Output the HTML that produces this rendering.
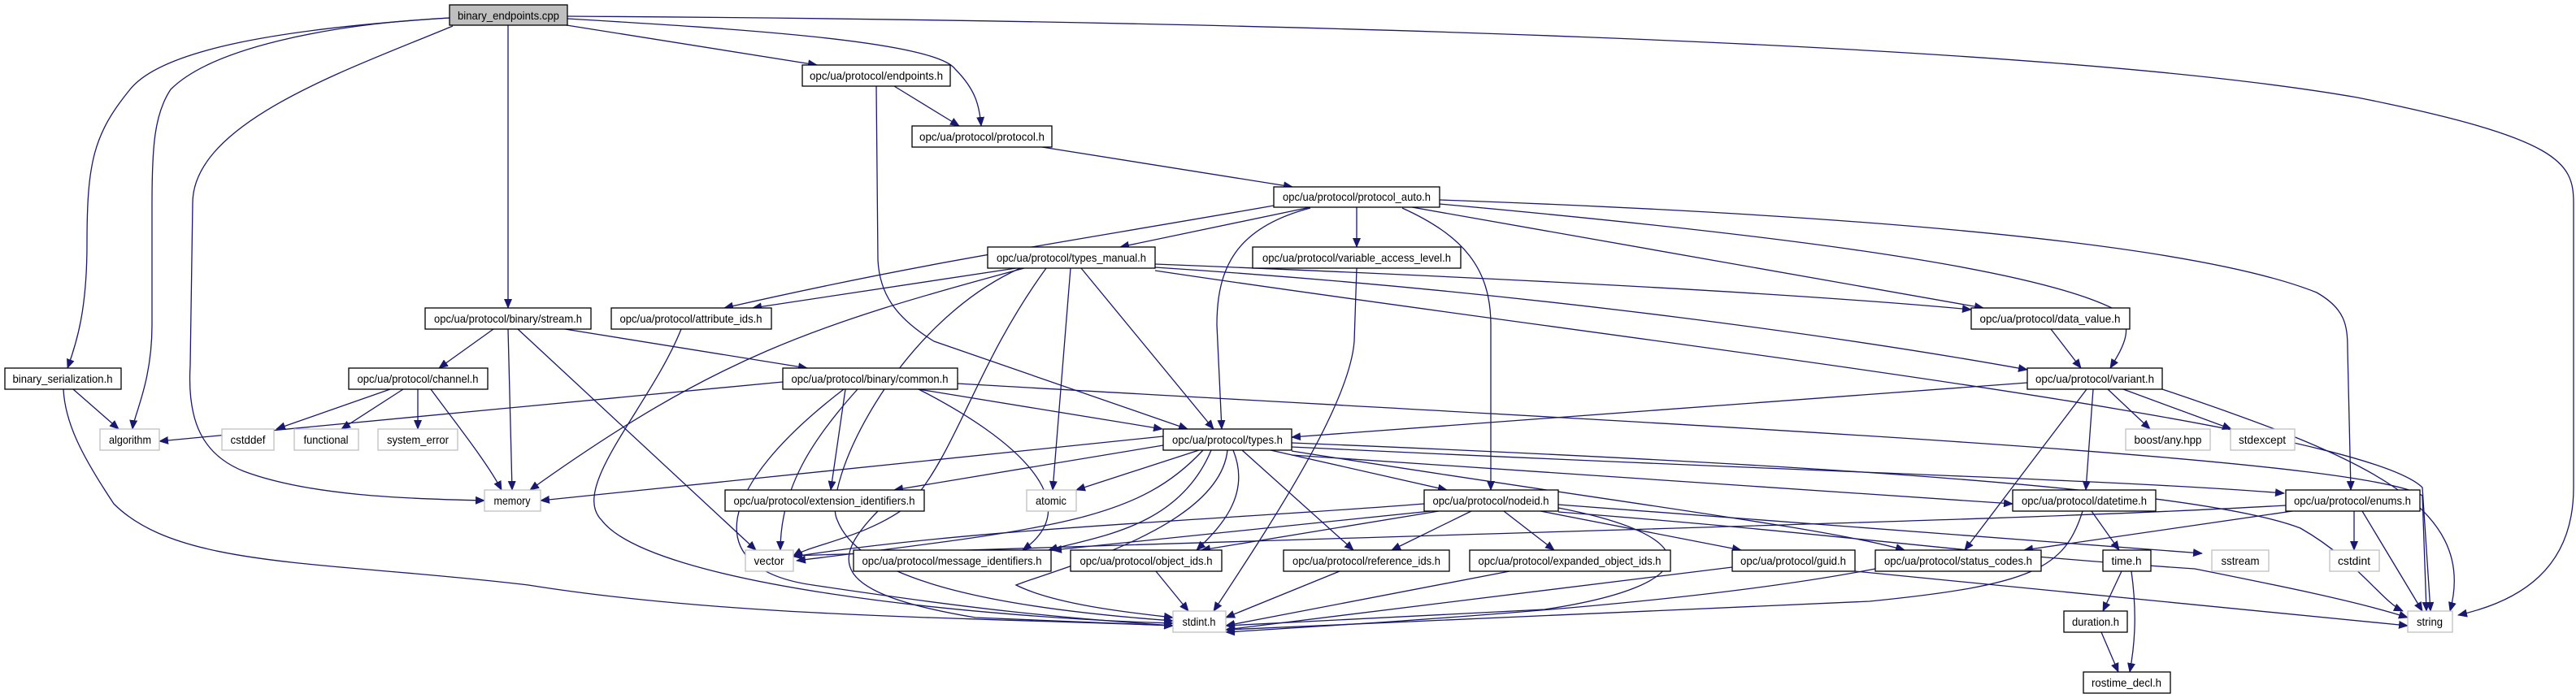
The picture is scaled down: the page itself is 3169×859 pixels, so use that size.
<!DOCTYPE html>
<html><head><meta charset="utf-8"><style>html,body{margin:0;padding:0;background:#fff}svg{display:block}</style></head><body>
<svg width="3169" height="859" viewBox="0 0 3169 859" xmlns="http://www.w3.org/2000/svg" font-family="Liberation Sans, sans-serif" font-size="14">
<defs><marker id="a" markerWidth="12" markerHeight="10" refX="11" refY="5" orient="auto" markerUnits="userSpaceOnUse"><path d="M0,0 L12,5 L0,10 z" fill="#191970"/></marker></defs>
<g fill="none" stroke="#191970" stroke-width="1.3" marker-end="url(#a)">
<path d="M553,22 C350,35 200,60 160,110 C115,165 107,200 107,300 C107,380 95,420 83,453"/>
<path d="M553,22 C400,30 260,60 210,110 C190,140 187,180 187,250 L187,400 C187,470 165,510 163,528"/>
<path d="M557,32 C430,85 237,150 237,250 L234,450 C230,520 250,560 300,580 C380,610 500,614 596,616"/>
<path d="M625,31 L625,379"/>
<path d="M697,31 L1005,80"/>
<path d="M698,23 C900,35 1150,50 1175,85 C1200,110 1205,130 1207,155"/>
<path d="M698,20 C1500,25 2500,50 2900,120 C3150,170 3166,200 3166,250 L3166,600 C3166,700 3100,740 3024,757"/>
<path d="M1100,106 L1180,155"/>
<path d="M1078,106 L1080,320 C1082,360 1100,390 1149,420 L1461,528"/>
<path d="M1282,181 L1590,230"/>
<path d="M1612,255 L1378,304"/>
<path d="M1669,255 L1669,304"/>
<path d="M1567,253 C1300,300 1150,320 891,379"/>
<path d="M1250,330 L926,379"/>
<path d="M1737,255 L2440,379"/>
<path d="M1771,251 C2200,290 2500,330 2600,380 C2630,400 2610,430 2596,453"/>
<path d="M1612,256 C1520,280 1497,330 1497,400 L1503,528"/>
<path d="M1725,256 C1800,290 1834,330 1834,400 L1834,603"/>
<path d="M1771,246 C2300,265 2700,300 2850,360 C2885,380 2888,400 2888,430 L2892,603"/>
<path d="M1421,325 C1800,340 2200,360 2425,381"/>
<path d="M1421,329 C1900,360 2300,420 2494,455"/>
<path d="M1330,330 L1493,528"/>
<path d="M1260,330 C1000,400 880,440 652,603"/>
<path d="M1287,330 C1200,450 1180,550 1120,620 C1070,660 1000,670 976,684"/>
<path d="M1255,330 C1100,400 1010,600 1030,640 C1060,720 1250,750 1443,764"/>
<path d="M1317,330 L1295,603"/>
<path d="M1421,333 C2000,420 2900,520 2980,600 L2990,752"/>
<path d="M1669,330 L1666,420 C1660,500 1560,650 1493,752"/>
<path d="M607,405 L540,453"/>
<path d="M625,405 L630,603"/>
<path d="M637,405 L930,677"/>
<path d="M695,405 L993,453"/>
<path d="M838,405 C800,500 700,600 740,640 C800,720 1200,760 1443,767"/>
<path d="M90,479 L146,528"/>
<path d="M78,479 C80,520 100,560 140,620 C220,700 400,690 650,720 C900,760 1200,760 1443,770"/>
<path d="M480,479 L340,528"/>
<path d="M496,479 L420,528"/>
<path d="M514,479 L514,528"/>
<path d="M530,479 C560,520 600,570 617,603"/>
<path d="M963,470 L196,543"/>
<path d="M1130,479 L1430,528"/>
<path d="M1040,479 L1022,603"/>
<path d="M1055,479 C1000,540 960,600 960,677"/>
<path d="M1038,479 C880,600 860,700 1000,720 C1200,750 1300,760 1443,770"/>
<path d="M1130,479 C1250,540 1340,620 1258,677"/>
<path d="M1178,472 C2000,520 2900,560 2980,610 L2985,752"/>
<path d="M2523,405 L2560,453"/>
<path d="M2494,471 L1589,538"/>
<path d="M2593,479 L2645,528"/>
<path d="M2612,479 L2745,528"/>
<path d="M2575,479 L2566,603"/>
<path d="M2567,479 L2417,677"/>
<path d="M2660,479 C2900,560 3050,620 3014,752"/>
<path d="M1431,537 L665,616"/>
<path d="M1431,548 L1100,603"/>
<path d="M1475,554 L1324,603"/>
<path d="M1480,554 C1400,640 1300,650 980,690"/>
<path d="M1490,554 C1450,650 1350,660 1290,677"/>
<path d="M1517,554 C1540,610 1500,650 1472,677"/>
<path d="M1510,554 C1500,650 1300,700 1250,720 C1300,745 1400,755 1443,760"/>
<path d="M1528,554 L1665,677"/>
<path d="M1563,554 L1780,603"/>
<path d="M1589,560 L2476,620"/>
<path d="M1589,550 C2200,580 2600,590 2810,607"/>
<path d="M1589,555 C2000,620 2250,650 2343,677"/>
<path d="M1589,545 C2200,570 2700,600 2830,650 C2900,690 2930,740 2956,752"/>
<path d="M1080,629 C1020,690 1020,730 1200,760 L1443,770"/>
<path d="M1752,620 C1500,640 1200,650 976,685"/>
<path d="M1760,629 L1295,677"/>
<path d="M1770,629 L1478,677"/>
<path d="M1810,629 L1712,677"/>
<path d="M1850,629 L1912,677"/>
<path d="M1895,629 L2142,677"/>
<path d="M1917,625 C2100,660 2100,720 1900,750 L1508,770"/>
<path d="M1917,621 L2709,681"/>
<path d="M1917,630 C2300,660 2400,680 2700,700 C2800,720 2900,740 2962,760"/>
<path d="M2812,622 C2500,640 2000,650 976,684"/>
<path d="M2820,629 L2490,677"/>
<path d="M2896,629 L2896,677"/>
<path d="M2906,629 L2980,752"/>
<path d="M2573,629 L2607,677"/>
<path d="M2562,629 C2540,700 2500,720 2300,740 L1508,775"/>
<path d="M2610,703 L2587,752"/>
<path d="M2622,703 C2630,760 2625,800 2620,827"/>
<path d="M2585,778 L2606,827"/>
<path d="M1422,703 L1462,752"/>
<path d="M1648,703 L1508,760"/>
<path d="M1857,703 L1508,770"/>
<path d="M2131,698 L1508,775"/>
<path d="M2282,703 L2962,770"/>
<path d="M2307,700 C2100,740 1800,760 1508,778"/>
</g>
<g stroke-width="1.3">
<g stroke="#000" fill="#fff">
<rect x="553" y="6" width="145" height="25" fill="#bfbfbf"/>
<rect x="987" y="80" width="182" height="26"/>
<rect x="1122" y="155" width="172" height="26"/>
<rect x="1567" y="230" width="204" height="25"/>
<rect x="1215" y="304" width="206" height="26"/>
<rect x="1541" y="304" width="256" height="26"/>
<rect x="523" y="379" width="204" height="26"/>
<rect x="752" y="379" width="197" height="26"/>
<rect x="2425" y="379" width="195" height="26"/>
<rect x="6" y="453" width="143" height="26"/>
<rect x="429" y="453" width="171" height="26"/>
<rect x="963" y="453" width="215" height="26"/>
<rect x="2494" y="453" width="166" height="26"/>
<rect x="1431" y="528" width="158" height="26"/>
<rect x="892" y="603" width="245" height="26"/>
<rect x="1752" y="603" width="165" height="26"/>
<rect x="2476" y="603" width="176" height="26"/>
<rect x="2812" y="603" width="165" height="26"/>
<rect x="1050" y="677" width="243" height="26"/>
<rect x="1317" y="677" width="186" height="26"/>
<rect x="1579" y="677" width="204" height="26"/>
<rect x="1808" y="677" width="247" height="26"/>
<rect x="2131" y="677" width="151" height="26"/>
<rect x="2307" y="677" width="204" height="26"/>
<rect x="2587" y="677" width="59" height="26"/>
<rect x="2539" y="752" width="78" height="26"/>
<rect x="2563" y="827" width="107" height="26"/>
</g>
<g stroke="#bfbfbf" fill="#fff">
<rect x="123" y="528" width="73" height="26"/>
<rect x="273" y="528" width="64" height="26"/>
<rect x="362" y="528" width="79" height="26"/>
<rect x="465" y="528" width="98" height="26"/>
<rect x="2615" y="528" width="104" height="26"/>
<rect x="2744" y="528" width="79" height="26"/>
<rect x="596" y="603" width="69" height="26"/>
<rect x="1263" y="603" width="61" height="26"/>
<rect x="917" y="677" width="59" height="26"/>
<rect x="2721" y="677" width="70" height="26"/>
<rect x="2866" y="677" width="61" height="26"/>
<rect x="1443" y="752" width="65" height="26"/>
<rect x="2962" y="752" width="55" height="26"/>
</g>
</g>
<g text-anchor="middle" fill="#000" lengthAdjust="spacingAndGlyphs">
<text x="625.5" y="24" textLength="125" lengthAdjust="spacingAndGlyphs">binary_endpoints.cpp</text>
<text x="1078" y="98" textLength="164" lengthAdjust="spacingAndGlyphs">opc/ua/protocol/endpoints.h</text>
<text x="1208" y="173" textLength="154" lengthAdjust="spacingAndGlyphs">opc/ua/protocol/protocol.h</text>
<text x="1669" y="247" textLength="182" lengthAdjust="spacingAndGlyphs">opc/ua/protocol/protocol_auto.h</text>
<text x="1318" y="322" textLength="184" lengthAdjust="spacingAndGlyphs">opc/ua/protocol/types_manual.h</text>
<text x="1669" y="322" textLength="232" lengthAdjust="spacingAndGlyphs">opc/ua/protocol/variable_access_level.h</text>
<text x="625" y="397" textLength="182" lengthAdjust="spacingAndGlyphs">opc/ua/protocol/binary/stream.h</text>
<text x="850" y="397" textLength="175" lengthAdjust="spacingAndGlyphs">opc/ua/protocol/attribute_ids.h</text>
<text x="2522" y="397" textLength="173" lengthAdjust="spacingAndGlyphs">opc/ua/protocol/data_value.h</text>
<text x="77" y="471" textLength="123" lengthAdjust="spacingAndGlyphs">binary_serialization.h</text>
<text x="514" y="471" textLength="149" lengthAdjust="spacingAndGlyphs">opc/ua/protocol/channel.h</text>
<text x="1070" y="471" textLength="193" lengthAdjust="spacingAndGlyphs">opc/ua/protocol/binary/common.h</text>
<text x="2577" y="471" textLength="146" lengthAdjust="spacingAndGlyphs">opc/ua/protocol/variant.h</text>
<text x="1510" y="546" textLength="136" lengthAdjust="spacingAndGlyphs">opc/ua/protocol/types.h</text>
<text x="1014" y="621" textLength="223" lengthAdjust="spacingAndGlyphs">opc/ua/protocol/extension_identifiers.h</text>
<text x="1834" y="621" textLength="143" lengthAdjust="spacingAndGlyphs">opc/ua/protocol/nodeid.h</text>
<text x="2564" y="621" textLength="154" lengthAdjust="spacingAndGlyphs">opc/ua/protocol/datetime.h</text>
<text x="2894" y="621" textLength="144" lengthAdjust="spacingAndGlyphs">opc/ua/protocol/enums.h</text>
<text x="1171" y="695" textLength="221" lengthAdjust="spacingAndGlyphs">opc/ua/protocol/message_identifiers.h</text>
<text x="1410" y="695" textLength="163" lengthAdjust="spacingAndGlyphs">opc/ua/protocol/object_ids.h</text>
<text x="1681" y="695" textLength="182" lengthAdjust="spacingAndGlyphs">opc/ua/protocol/reference_ids.h</text>
<text x="1931" y="695" textLength="225" lengthAdjust="spacingAndGlyphs">opc/ua/protocol/expanded_object_ids.h</text>
<text x="2206" y="695" textLength="130" lengthAdjust="spacingAndGlyphs">opc/ua/protocol/guid.h</text>
<text x="2409" y="695" textLength="182" lengthAdjust="spacingAndGlyphs">opc/ua/protocol/status_codes.h</text>
<text x="2616" y="695" textLength="37" lengthAdjust="spacingAndGlyphs">time.h</text>
<text x="2578" y="770" textLength="58" lengthAdjust="spacingAndGlyphs">duration.h</text>
<text x="2616" y="845" textLength="86" lengthAdjust="spacingAndGlyphs">rostime_decl.h</text>
<text x="160" y="546" textLength="52" lengthAdjust="spacingAndGlyphs">algorithm</text>
<text x="305" y="546" textLength="43" lengthAdjust="spacingAndGlyphs">cstddef</text>
<text x="401" y="546" textLength="55" lengthAdjust="spacingAndGlyphs">functional</text>
<text x="514" y="546" textLength="76" lengthAdjust="spacingAndGlyphs">system_error</text>
<text x="2667" y="546" textLength="83" lengthAdjust="spacingAndGlyphs">boost/any.hpp</text>
<text x="2783" y="546" textLength="58" lengthAdjust="spacingAndGlyphs">stdexcept</text>
<text x="630" y="621" textLength="45" lengthAdjust="spacingAndGlyphs">memory</text>
<text x="1293" y="621" textLength="38" lengthAdjust="spacingAndGlyphs">atomic</text>
<text x="946" y="695" textLength="37" lengthAdjust="spacingAndGlyphs">vector</text>
<text x="2756" y="695" textLength="47" lengthAdjust="spacingAndGlyphs">sstream</text>
<text x="2896" y="695" textLength="40" lengthAdjust="spacingAndGlyphs">cstdint</text>
<text x="1475" y="770" textLength="41" lengthAdjust="spacingAndGlyphs">stdint.h</text>
<text x="2989" y="770" textLength="32" lengthAdjust="spacingAndGlyphs">string</text>
</g>
</svg>
</body></html>
